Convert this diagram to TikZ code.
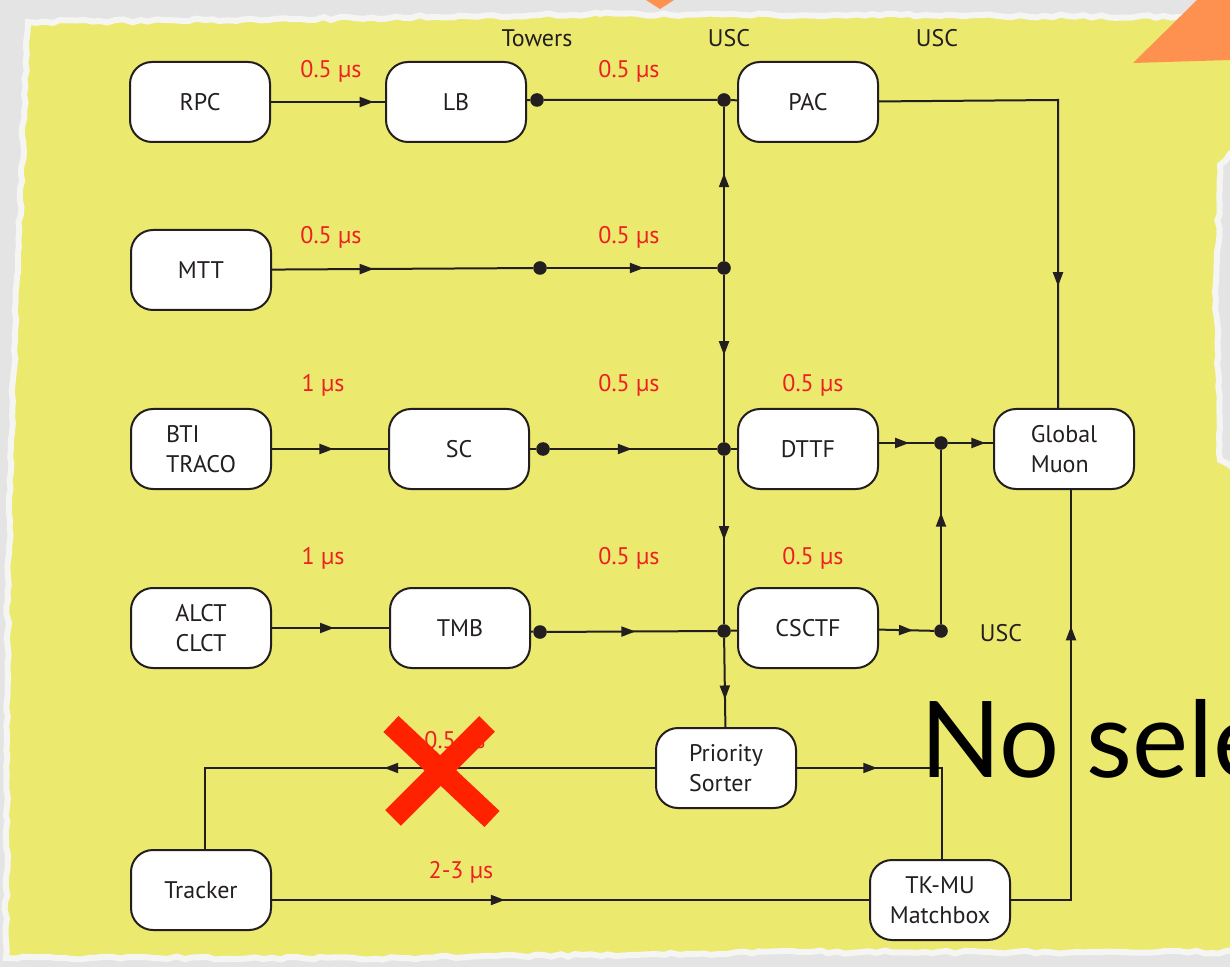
\documentclass[tikz,border=0pt]{standalone}
\usepackage{fontspec}
\setmainfont{PT Sans}
\newfontfamily\bigfont{Lato}
\usetikzlibrary{arrows.meta,decorations.markings,decorations.pathmorphing}
\definecolor{paper}{RGB}{235,233,110}
\definecolor{backdrop}{RGB}{228,228,228}
\definecolor{rim}{RGB}{245,245,243}
\definecolor{delay}{RGB}{237,32,36}
\definecolor{cross}{RGB}{255,34,0}
\definecolor{tab}{RGB}{255,145,80}
\definecolor{ink}{RGB}{35,31,32}
\begin{document}
\begin{tikzpicture}[x=0.5pt,y=-0.5pt,
  blk/.style={draw=ink, fill=white, rounded corners=11pt, minimum width=70pt, minimum height=40pt, line width=1pt, text=ink, font=\fontsize{12}{15}\selectfont},
  lbl/.style={text=delay, font=\fontsize{12}{15}\selectfont},
  place/.style={text=ink, font=\fontsize{12}{15}\selectfont},
  jdot/.style={circle, fill=ink, inner sep=0pt, minimum size=6.8pt},
  wire/.style={draw=ink, line width=1pt},
  arrat/.style={postaction={decorate}, decoration={markings, mark=at position #1 with {\arrow{Triangle[length=7pt,width=5pt]}}}}]
\useasboundingbox (0,0) rectangle (1230,967);
\clip (0,0) rectangle (1230,967);
\fill[backdrop] (0,0) rectangle (1230,967);
\pgfmathsetseed{42}
\fill[paper, draw=rim, line width=3pt, decorate, decoration={random steps, segment length=4pt, amplitude=0.8pt}]
  (28,22) -- (300,19) -- (600,14) -- (900,15) -- (1180,17) -- (1236,17) -- (1236,150) -- (1220,165)
  -- (1216,300) -- (1220,460) -- (1236,470) -- (1236,952) -- (800,952) -- (400,958) -- (6,958)
  -- (8,600) -- (14,350) -- cycle;
\fill[tab] (1133,63) -- (1197,0) -- (1230,0) -- (1230,60) -- cycle;
\fill[tab] (646,0) -- (674,0) -- (660,9) -- cycle;

\node[blk] (rpc) at (200,102) {RPC};
\node[blk] (lb) at (456,102) {LB};
\node[blk] (pac) at (808,102) {PAC};
\node[blk] (mtt) at (201,270) {MTT};
\node[blk, align=left] (bti) at (201,449) {BTI\\TRACO};
\node[blk] (sc) at (459,449) {SC};
\node[blk] (dttf) at (808,449) {DTTF};
\node[blk, align=left] (gm) at (1064,449) {Global\\Muon};
\node[blk, align=center] (alct) at (201,628) {ALCT\\CLCT};
\node[blk] (tmb) at (460,628) {TMB};
\node[blk] (csctf) at (808,628) {CSCTF};
\node[blk, align=left] (ps) at (726,768) {Priority\\Sorter};
\node[blk] (trk) at (201,890) {Tracker};
\node[blk, align=center] (tkmu) at (940,900) {TK-MU\\Matchbox};

\node[jdot] (lbdot) at (537,100) {};
\node[jdot] (j1) at (724,100) {};
\node[jdot] (mttdot) at (540,268) {};
\node[jdot] (j2) at (724,268) {};
\node[jdot] (scdot) at (543,449) {};
\node[jdot] (j3) at (724,449) {};
\node[jdot] (dtdot) at (941,443) {};
\node[jdot] (tmbdot) at (540,632) {};
\node[jdot] (j4) at (724,631) {};
\node[jdot] (csdot) at (941,631) {};
\coordinate (pacbend) at (1058,100);
\coordinate (gmbend) at (1071,900);
\coordinate (trkbend) at (205,768);
\coordinate (psbend) at (942,768);

\draw[wire, arrat=0.9] (rpc) -- (lb);
\draw[wire] (lb) -- (lbdot) -- (j1) -- (pac);
\draw[wire, arrat=0.39] (mtt) -- (mttdot);
\draw[wire, arrat=0.57] (mttdot) -- (j2);
\draw[wire, arrat=0.53] (bti) -- (sc);
\draw[wire] (sc) -- (scdot);
\draw[wire, arrat=0.49] (scdot) -- (j3);
\draw[wire] (j3) -- (dttf);
\draw[wire, arrat=0.53] (alct) -- (tmb);
\draw[wire] (tmb) -- (tmbdot);
\draw[wire, arrat=0.52] (tmbdot) -- (j4);
\draw[wire] (j4) -- (csctf);
\draw[wire, arrat=0.57] (j2) -- (j1);
\draw[wire, arrat=0.48] (j2) -- (j3);
\draw[wire, arrat=0.5] (j3) -- (j4);
\draw[wire, arrat=0.69] (j4) -- (ps);
\draw[wire, arrat=0.55] (dttf.east |- dtdot) -- (dtdot);
\draw[wire, arrat=0.83] (dtdot) -- (gm.west |- dtdot);
\draw[wire, arrat=0.62] (csctf) -- (csdot);
\draw[wire, arrat=0.64] (csdot) -- (dtdot);
\draw[wire, arrat=0.75] (pac) -- (pacbend) -- (gm.north -| pacbend);
\draw[wire, arrat=0.71] (tkmu) -- (gmbend) -- (gm.south -| gmbend);
\draw[wire, arrat=0.51] (ps) -- (trkbend) -- (trk.north -| trkbend);
\draw[wire, arrat=0.34] (ps) -- (psbend) -- (tkmu.north -| psbend);
\draw[wire, arrat=0.39] (trk.east |- tkmu) -- (tkmu);

\node[place] (towers) at (537,38) {Towers};
\node[place] (usc1) at (729,38) {USC};
\node[place] (usc2) at (937,38) {USC};
\node[place] (usc3) at (1001,633) {USC};
\node[lbl] (t1) at (331,71) {0.5 µs};
\node[lbl] (t2) at (629,71) {0.5 µs};
\node[lbl] (t3) at (331,237) {0.5 µs};
\node[lbl] (t4) at (629,237) {0.5 µs};
\node[lbl] (t5) at (323,385) {1 µs};
\node[lbl] (t6) at (629,385) {0.5 µs};
\node[lbl] (t7) at (813,385) {0.5 µs};
\node[lbl] (t8) at (323,558) {1 µs};
\node[lbl] (t9) at (629,558) {0.5 µs};
\node[lbl] (t10) at (813,558) {0.5 µs};
\node[lbl] (t11) at (455,742) {0.5 µs};
\node[lbl] (t12) at (461,872) {2-3 µs};

\draw[cross, line width=11pt] (391,724) -- (492,819) (487,724) -- (393,818);
\node[anchor=base west, inner sep=0pt, text=black, font=\bigfont\fontsize{53}{60}\selectfont] (nosel) at (920,777) {No selection};
\end{tikzpicture}
\end{document}
